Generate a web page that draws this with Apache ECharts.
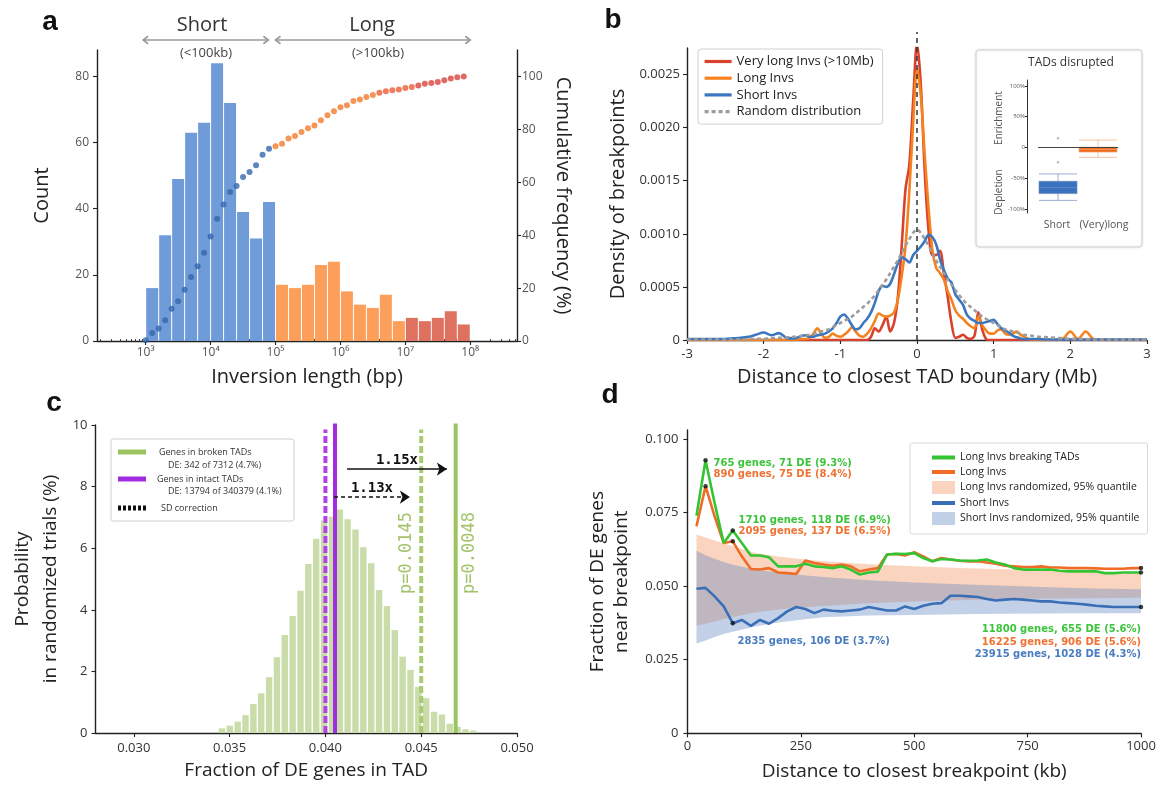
<!DOCTYPE html>
<html>
<head>
<meta charset="utf-8">
<script src="https://cdn.jsdelivr.net/npm/echarts@6.0.0/dist/echarts.min.js"></script>
<style>
html,body{margin:0;padding:0;background:#fff;}
.p{position:absolute;left:0;top:0;width:1162px;height:785px;}
</style>
</head>
<body>
<div id="pa" class="p"></div><div id="pb" class="p"></div><div id="pc" class="p"></div><div id="pd" class="p"></div>
<script>
// ================= DATA =================
// Panel a: histogram of inversion lengths (log10 bp bin centres) + cumulative frequency
const aBinCenters = [3.1,3.3,3.5,3.7,3.9,4.1,4.3,4.5,4.7,4.9,5.1,5.3,5.5,5.7,5.9,6.1,6.3,6.5,6.7,6.9,7.1,7.3,7.5,7.7,7.9];
const aCounts = [16,32,49,63,66,84,72,39,31,42,17,16,17,23,24,15,11,10,14,6,7,6,7,9,5];
const aCumX = [3.0,3.1,3.2,3.3,3.4,3.5,3.6,3.7,3.8,3.9,4.0,4.1,4.2,4.3,4.4,4.5,4.6,4.7,4.8,4.9,
               5.0,5.1,5.2,5.3,5.4,5.5,5.6,5.7,5.8,5.9,6.0,6.1,6.2,6.3,6.4,6.5,6.6,6.7,6.8,6.9,
               7.0,7.1,7.2,7.3,7.4,7.5,7.6,7.7,7.8,7.9];
const aCumPct = [0.3,3.0,4.7,7.8,12.2,15.0,19.4,24.2,28.3,33.4,39.5,46.2,51.6,56.3,58.6,62.0,63.9,66.4,70.4,72.7,
                 73.6,74.6,76.5,77.5,79.0,80.4,81.5,83.4,85.3,86.8,88.4,89.1,90.7,91.3,92.2,93.0,93.8,94.4,94.8,95.1,
                 95.6,96.0,96.6,97.2,97.5,97.9,98.6,99.2,99.7,100];
const aTickVals = [3,4,5,6,7,8];
const aTickLabels = ['10³','10⁴','10⁵','10⁶','10⁷','10⁸'];
const aLeftTicks = [0,20,40,60,80];
const aRightTicks = [0,20,40,60,80,100];
const aShortRange = [2.96,4.89];
const aLongRange = [5.0,8.0];

// Panel b: density of breakpoints vs distance to TAD boundary (Mb)
const bX = [-3,-2.9,-2.8,-2.7,-2.6,-2.5,-2.4,-2.3,-2.2,-2.1,-2,-1.9,-1.8,-1.7,-1.6,
  -1.5,-1.45,-1.4,-1.35,-1.3,-1.25,-1.2,-1.15,-1.1,-1.05,-1,-0.95,-0.9,-0.85,-0.8,-0.75,-0.7,-0.65,-0.6,-0.55,
  -0.5,-0.45,-0.4,-0.35,-0.3,-0.25,-0.2,-0.15,-0.1,-0.05,0,0.05,0.1,0.15,0.2,0.25,0.3,0.35,0.4,0.45,0.5,
  0.55,0.6,0.65,0.7,0.75,0.8,0.85,0.9,0.95,1,1.05,1.1,1.15,1.2,1.25,1.3,1.35,1.4,1.45,1.5,
  1.6,1.7,1.8,1.9,2,2.1,2.2,2.3,2.4,2.5,2.6,2.7,2.8,2.9,3];
const bVeryLong = [0,0,0,0,0,0,0,0,0,0,0,0,0,0,0,
  0,0,0,0,0,0,0,0,0,0,0,0,0,0,0,0,0,0,0.3e-4,1.1e-4,
  0.8e-4,1.4e-4,2.2e-4,0.8e-4,1.6e-4,4.0e-4,8.8e-4,14.2e-4,16.5e-4,22.5e-4,28.0e-4,24.0e-4,16.0e-4,10.4e-4,8.0e-4,8.0e-4,8.4e-4,6.3e-4,4.1e-4,1.6e-4,0.2e-4,
  0.3e-4,0.5e-4,0.2e-4,0.1e-4,0.4e-4,2.6e-4,1.0e-4,0.1e-4,0,0,0,0,0,0,0,0,0,0,0,0,
  0,0,0,0,0,0,0,0,0,0,0,0,0,0,0];
const bLong = [0,0,0,0,0,0,0,0,0,0,0,0,0,0,0,
  0.1e-4,0.1e-4,0.2e-4,0.6e-4,1.1e-4,0.6e-4,0.2e-4,0.3e-4,0.6e-4,0.4e-4,0.3e-4,0.5e-4,0.8e-4,1.2e-4,0.8e-4,0.4e-4,0.3e-4,0.6e-4,1.1e-4,1.8e-4,
  2.5e-4,2.3e-4,2.2e-4,2.3e-4,2.6e-4,3.8e-4,6.0e-4,8.8e-4,14.0e-4,20.5e-4,25.5e-4,23.0e-4,17.5e-4,12.5e-4,8.5e-4,6.8e-4,6.3e-4,5.7e-4,4.6e-4,3.8e-4,2.8e-4,
  2.3e-4,2.0e-4,1.6e-4,1.3e-4,1.1e-4,2.2e-4,1.4e-4,0.9e-4,0.6e-4,0.6e-4,0.9e-4,1.0e-4,0.6e-4,0.5e-4,0.6e-4,0.8e-4,0.5e-4,0.3e-4,0.1e-4,0.05e-4,
  0,0,0,0.1e-4,0.8e-4,0.1e-4,0.8e-4,0.1e-4,0,0,0,0,0,0,0];
const bShort = [0.1e-4,0.1e-4,0.1e-4,0.1e-4,0.1e-4,0.1e-4,0.15e-4,0.2e-4,0.3e-4,0.5e-4,0.7e-4,0.45e-4,0.65e-4,0.2e-4,0.15e-4,
  0.4e-4,0.45e-4,0.3e-4,0.3e-4,0.45e-4,0.5e-4,0.6e-4,0.8e-4,1.1e-4,1.6e-4,2.2e-4,2.4e-4,2.0e-4,1.4e-4,1.0e-4,1.1e-4,1.6e-4,2.0e-4,2.6e-4,3.5e-4,
  4.6e-4,5.1e-4,5.0e-4,5.3e-4,6.2e-4,7.2e-4,7.8e-4,7.6e-4,7.3e-4,8.0e-4,8.4e-4,8.8e-4,9.3e-4,9.9e-4,9.7e-4,9.0e-4,7.6e-4,6.6e-4,5.8e-4,5.4e-4,4.3e-4,
  3.8e-4,3.3e-4,2.4e-4,2.0e-4,1.8e-4,1.6e-4,1.6e-4,1.7e-4,1.8e-4,1.9e-4,1.5e-4,1.1e-4,0.9e-4,0.7e-4,0.4e-4,0.25e-4,0.15e-4,0.1e-4,0.1e-4,0.1e-4,
  0.08e-4,0.06e-4,0.05e-4,0.05e-4,0.05e-4,0.05e-4,0.05e-4,0.05e-4,0.05e-4,0.05e-4,0.05e-4,0.05e-4,0.05e-4,0.05e-4,0.05e-4];
const bRandom = [0.05e-4,0.05e-4,0.05e-4,0.05e-4,0.05e-4,0.05e-4,0.05e-4,0.05e-4,0.08e-4,0.1e-4,0.12e-4,0.15e-4,0.2e-4,0.25e-4,0.3e-4,
  0.4e-4,0.45e-4,0.5e-4,0.6e-4,0.7e-4,0.8e-4,0.9e-4,1.0e-4,1.2e-4,1.4e-4,1.6e-4,1.8e-4,2.0e-4,2.2e-4,2.5e-4,2.8e-4,3.1e-4,3.4e-4,3.8e-4,4.2e-4,
  4.7e-4,5.2e-4,5.7e-4,6.3e-4,6.9e-4,7.5e-4,8.2e-4,8.9e-4,9.5e-4,10.1e-4,10.4e-4,10.1e-4,9.5e-4,8.9e-4,8.2e-4,7.5e-4,6.9e-4,6.3e-4,5.7e-4,5.2e-4,4.7e-4,
  4.2e-4,3.8e-4,3.4e-4,3.1e-4,2.8e-4,2.5e-4,2.2e-4,2.0e-4,1.8e-4,1.6e-4,1.4e-4,1.2e-4,1.0e-4,0.9e-4,0.8e-4,0.7e-4,0.6e-4,0.5e-4,0.45e-4,0.4e-4,
  0.3e-4,0.25e-4,0.2e-4,0.15e-4,0.12e-4,0.1e-4,0.08e-4,0.05e-4,0.05e-4,0.05e-4,0.05e-4,0.05e-4,0.05e-4,0.05e-4,0.05e-4];
const bXTicks = [-3,-2,-1,0,1,2,3];
const bYTicks = [0,0.0005,0.001,0.0015,0.002,0.0025];
const bBoundaryTop = 0.0029;
// Panel b inset: TADs disrupted (enrichment / depletion)
const insetCats = ['Short','(Very)long'];
const insetBox = [[-86,-75,-65,-55,-43],[-16,-7.5,-3,0.5,12]];
const insetOutliers = [['Short',-24],['Short',15]];
const insetTicks = [-100,-50,0,50,100];

// Panel c: randomized trials histogram
const cBinX = [0.03460,0.03501,0.03542,0.03583,0.03624,0.03665,0.03706,0.03747,0.03788,0.03829,0.03870,
  0.03911,0.03952,0.03993,0.04034,0.04075,0.04116,0.04157,0.04198,0.04239,0.04280,0.04321,
  0.04362,0.04403,0.04444,0.04485,0.04526,0.04567,0.04608,0.04649,0.04690,0.04731,0.04772];
const cBinY = [0.15,0.24,0.37,0.58,0.94,1.29,1.81,2.46,3.18,3.80,4.62,5.49,6.31,6.90,7.02,7.26,6.94,6.61,6.03,5.51,
  4.64,4.12,3.34,2.48,2.05,1.50,1.13,0.69,0.60,0.30,0.20,0.12,0.08];
const cLineNames = ['Genes in broken TADs','Genes in broken TADs (SD corrected)','Genes in intact TADs','SD correction'];
const cLineX = [0.0468,0.0450,0.0405,0.0400];
const cLineTop = [10.05,9.85,10.05,9.85];
const cArrowFrom = [0.04113,0.04045];
const cArrowTo = [0.04634,0.04441];
const cArrowY = [8.57,7.66];
const cArrowLabels = ['1.15x','1.13x'];
const cXTicks = [0.030,0.035,0.040,0.045,0.050];
const cYTicks = [0,2,4,6,8,10];

// Panel d: fraction of DE genes near breakpoint
const dX = [20,40,60,80,100,120,140,160,180,200,220,240,260,280,300,320,340,360,380,400,
  420,440,460,480,500,520,540,560,580,600,620,640,660,680,700,720,740,760,780,800,
  820,840,860,880,900,920,940,960,980,1000];
const dGreen = [0.0739,0.0927,0.0782,0.0646,0.0689,0.0646,0.0604,0.0604,0.0598,0.0567,
  0.0567,0.0567,0.0576,0.0567,0.0565,0.0561,0.0567,0.0556,0.0539,0.0546,
  0.0549,0.0607,0.0610,0.0609,0.0612,0.0595,0.0584,0.0592,0.0590,0.0587,
  0.0586,0.0587,0.0590,0.0580,0.0573,0.0561,0.0556,0.0556,0.0556,0.0556,
  0.0552,0.0550,0.0550,0.0550,0.0550,0.0544,0.0544,0.0546,0.0546,0.0546];
const dOrange = [0.0703,0.0839,0.0737,0.0646,0.0652,0.0601,0.0558,0.0556,0.0561,0.0546,
  0.0544,0.0541,0.0587,0.0578,0.0573,0.0569,0.0573,0.0567,0.0550,0.0556,
  0.0561,0.0607,0.0609,0.0604,0.0615,0.0601,0.0584,0.0595,0.0590,0.0586,
  0.0584,0.0584,0.0580,0.0576,0.0569,0.0567,0.0565,0.0565,0.0567,0.0563,
  0.0563,0.0561,0.0561,0.0561,0.0560,0.0559,0.0559,0.0559,0.0561,0.0561];
const dBlue = [0.0491,0.0494,0.0465,0.0431,0.0374,0.0385,0.0365,0.0385,0.0372,0.0391,
  0.0414,0.0429,0.0422,0.0408,0.0420,0.0416,0.0414,0.0417,0.0420,0.0429,
  0.0423,0.0417,0.0417,0.0431,0.0422,0.0433,0.0440,0.0442,0.0467,0.0467,
  0.0465,0.0463,0.0456,0.0451,0.0454,0.0456,0.0454,0.0451,0.0448,0.0448,
  0.0444,0.0442,0.0440,0.0437,0.0433,0.0431,0.0429,0.0429,0.0429,0.0429];
const dBandX = [20,40,60,80,100,150,200,250,300,400,500,600,700,800,900,1000];
const dOrangeLo = [0.0365,0.0372,0.0380,0.0388,0.0395,0.0410,0.0420,0.0427,0.0432,0.0442,0.0448,0.0452,0.0456,0.0458,0.0459,0.0460];
const dOrangeHi = [0.0675,0.0665,0.0655,0.0645,0.0635,0.0612,0.0600,0.0592,0.0584,0.0574,0.0567,0.0561,0.0557,0.0553,0.0549,0.0545];
const dBlueLo = [0.0305,0.0315,0.0327,0.0337,0.0345,0.0363,0.0376,0.0386,0.0394,0.0400,0.0402,0.0404,0.0406,0.0407,0.0408,0.0408];
const dBlueHi = [0.0620,0.0605,0.0593,0.0582,0.0572,0.0556,0.0546,0.0538,0.0531,0.0520,0.0512,0.0506,0.0501,0.0496,0.0492,0.0489];
const dMarkIdx = [1,4,49];
const dBlueMarkIdx = [4,49];
const dXTicks = [0,250,500,750,1000];
const dYTicks = [0,0.025,0.05,0.075,0.1];

// ================= STYLE HELPERS =================
const F = 'Open Sans';
const AX = {color:'#222', width:1.4};
function valAxis(o){
  const ax = {
    type:'value', gridIndex:0, min:o.min, max:o.max, scale:false,
    splitLine:{show:false},
    axisLine:{show:true, onZero:false, lineStyle:AX},
    axisTick:{show:true, length:o.tickLen||4, lineStyle:{color:'#222', width:1.1}},
    axisLabel:{color:o.labelColor||'#333', fontSize:o.fs||13, margin:o.margin||7, fontFamily:F},
    nameTextStyle:{fontSize:o.nameFs||20, color:'#222', fontFamily:F, lineHeight:o.nameLh},
    nameLocation:'middle'
  };
  if (o.ticks){ ax.axisTick.customValues = o.ticks; ax.axisLabel.customValues = o.ticks; }
  if (o.interval){ ax.interval = o.interval; }
  ax.axisLabel.formatter = o.fmt || function(v){ return String(v); };
  if (o.name){ ax.name = o.name; ax.nameGap = o.nameGap; }
  if (o.position) ax.position = o.position;
  if (o.nameRotate != null) ax.nameRotate = o.nameRotate;
  return ax;
}
function letter(t, x, y){
  return {type:'text', x:x, y:y, style:{text:t, font:'bold 28px "Liberation Sans", Arial, sans-serif', fill:'#111', align:'center', verticalAlign:'middle'}};
}
function txt(t, x, y, size, color, extra, rot){
  const e = {type:'text', x:x, y:y, style:Object.assign({text:t, fontFamily:F, fontSize:size, fill:color, align:'center', verticalAlign:'middle'}, extra||{})};
  if (rot) e.rotation = rot;
  return e;
}

// ================= PANEL A =================
const ca = echarts.init(document.getElementById('pa'), null, {width:1162, height:785});
const aMinor = [];
for (let n = 2; n <= 8; n++) for (let k = 2; k <= 9; k++) { const v = n + Math.log10(k); if (v > 2.25 && v < 8.72) aMinor.push(v); }
function aBarColor(x){ return x < 5 ? '#6f9cd8' : (x < 7 ? '#fc9f5b' : '#de7160'); }
function aDotColor(x){ return x < 5 ? '#3466ae' : (x < 6.6 ? '#f27a2c' : (x < 7.2 ? '#e95e36' : '#d9423c')); }
ca.setOption({
  animation:false,
  textStyle:{fontFamily:F},
  grid:[{left:97, top:50, width:420, height:291, outerBoundsMode:'none'}],
  xAxis:[
    valAxis({min:2.25, max:8.72, ticks:aTickVals, fs:12, labelColor:'#555', margin:6,
      fmt:function(v){ return aTickLabels[aTickVals.indexOf(Math.round(v))]; },
      name:'Inversion length (bp)', nameGap:26}),
    {type:'value', gridIndex:0, min:2.25, max:8.72, splitLine:{show:false}, axisLine:{show:false},
     axisTick:{show:true, customValues:aMinor, length:2, lineStyle:{color:'#444', width:1}}, axisLabel:{show:false}}
  ],
  yAxis:[
    valAxis({min:0, max:88, ticks:aLeftTicks, fs:12, labelColor:'#555', margin:8, name:'Count', nameGap:45}),
    valAxis({min:0, max:110, ticks:aRightTicks, fs:12, labelColor:'#555', margin:5, position:'right',
      name:'Cumulative frequency (%)', nameGap:36, nameRotate:-90})
  ],
  series:[
    {type:'bar', name:'Count', xAxisIndex:0, yAxisIndex:0, barWidth:12,
     data:aBinCenters.map(function(x,i){ return {value:[x, aCounts[i]], itemStyle:{color:aBarColor(x)}}; }),
     itemStyle:{borderWidth:0}},
    {type:'scatter', name:'Cumulative', xAxisIndex:0, yAxisIndex:1, symbolSize:6, z:5,
     data:aCumX.map(function(x,i){ return {value:[x, aCumPct[i]], itemStyle:{color:aDotColor(x)}}; })}
  ]
});
(function(){
  const y = 40, col = '#9a9a9a', h = 5;
  function arrow(r){
    const x1 = ca.convertToPixel({xAxisIndex:0}, r[0]);
    const x2 = ca.convertToPixel({xAxisIndex:0}, r[1]);
    return [
      {type:'line', shape:{x1:x1, y1:y, x2:x2, y2:y}, style:{stroke:col, lineWidth:1.6}},
      {type:'polyline', shape:{points:[[x1+h, y-h*0.75],[x1, y],[x1+h, y+h*0.75]]}, style:{stroke:col, lineWidth:1.6, fill:'none'}},
      {type:'polyline', shape:{points:[[x2-h, y-h*0.75],[x2, y],[x2-h, y+h*0.75]]}, style:{stroke:col, lineWidth:1.6, fill:'none'}}
    ];
  }
  ca.setOption({graphic:{elements:[].concat(
    arrow(aShortRange), arrow(aLongRange),
    [letter('a', 50, 22),
     txt('Short', 202, 25, 20, '#333'),
     txt('Long', 372, 25, 20, '#333'),
     txt('(<100kb)', 206, 53, 13, '#444'),
     txt('(>100kb)', 378, 53, 13, '#444')]
  )}});
})();

// ================= PANEL B =================
const cb = echarts.init(document.getElementById('pb'), null, {width:1162, height:785});
function bLine(name, ys, color, dashed, z){
  return {name:name, type:'line', xAxisIndex:0, yAxisIndex:0, smooth:0.3, symbol:'none', showSymbol:false, z:z,
    data:bX.map(function(x,i){ return [x, ys[i]]; }),
    lineStyle:{color:color, width:2.6, type:dashed ? [4,3] : 'solid'}, itemStyle:{color:color}};
}
const bInsetY = valAxis({min:-106.5, max:109.7, ticks:insetTicks, fs:6, labelColor:'#555', margin:2, tickLen:2,
  fmt:function(v){ return v === 0 ? '0' : v + '%'; }});
bInsetY.gridIndex = 1; bInsetY.offset = 11; bInsetY.axisLine.lineStyle = {color:'#333', width:1};
cb.setOption({
  animation:false,
  textStyle:{fontFamily:F},
  grid:[{left:687, top:48, width:460, height:292, outerBoundsMode:'none'},
        {left:1038, top:80, width:80, height:133, outerBoundsMode:'none'}],
  legend:{
    data:['Very long Invs (>10Mb)','Long Invs','Short Invs','Random distribution'],
    orient:'vertical', left:698, top:49, padding:[6,9,6,5], itemGap:3.7, itemWidth:27, itemHeight:14,
    textStyle:{fontSize:13, color:'#222', fontFamily:F}, backgroundColor:'#fff',
    borderColor:'#d0d0d0', borderWidth:1, borderRadius:3, selectedMode:false,
    lineStyle:{width:3.2}, itemStyle:{opacity:0}
  },
  xAxis:[
    valAxis({min:-3, max:3, interval:1, fs:13, margin:8, name:'Distance to closest TAD boundary (Mb)', nameGap:27}),
    {type:'category', gridIndex:1, data:insetCats, boundaryGap:true, axisLine:{show:false}, axisTick:{show:false},
     axisLabel:{color:'#555', fontSize:10.5, margin:7, fontFamily:F, interval:0,
       formatter:function(v, i){ return i === 1 ? '{r|' + v + '}' : '{l|' + v + '}'; },
       rich:{r:{padding:[0,0,0,12], fontSize:10.5, color:'#555'}, l:{padding:[0,2,0,0], fontSize:10.5, color:'#555'}}}}
  ],
  yAxis:[
    valAxis({min:0, max:0.00275, ticks:bYTicks, fs:13, margin:7,
      fmt:function(v){ return v === 0 ? '0' : v.toFixed(4); },
      name:'Density of breakpoints', nameGap:59}),
    bInsetY
  ],
  series:[
    bLine('Very long Invs (>10Mb)', bVeryLong, '#d8412b', false, 2),
    bLine('Long Invs', bLong, '#f5821f', false, 3),
    bLine('Short Invs', bShort, '#3b77c1', false, 4),
    bLine('Random distribution', bRandom, '#9c9c9c', true, 5),
    {type:'line', name:'boundary', xAxisIndex:0, yAxisIndex:0, symbol:'none', clip:false, silent:true, z:6,
     data:[[0,0],[0,bBoundaryTop]], lineStyle:{color:'#333', width:1.5, type:[5,4]}},
    {type:'boxplot', name:'TADs disrupted', xAxisIndex:1, yAxisIndex:1, boxWidth:[38,40], z:3,
     data:[
       {value:insetBox[0], itemStyle:{color:'#3a72c0', borderColor:'rgba(110,140,185,0.7)', borderWidth:1}},
       {value:insetBox[1], itemStyle:{color:'#ee6a1c', borderColor:'rgba(240,170,120,0.7)', borderWidth:1}}
     ],
     markLine:{silent:true, symbol:['none','none'], label:{show:false}, animation:false,
       lineStyle:{color:'#444', width:1, type:'solid'}, data:[{yAxis:0}]}},
    {type:'scatter', name:'outliers', xAxisIndex:1, yAxisIndex:1, symbolSize:2.5, itemStyle:{color:'#aaa'}, data:insetOutliers, z:4}
  ],
  graphic:{elements:[
    letter('b', 613, 20),
    {type:'rect', z:-1, shape:{x:976, y:50, width:166, height:197, r:3},
     style:{fill:'#fff', stroke:'#d0d0d0', lineWidth:1, shadowBlur:3, shadowColor:'rgba(0,0,0,0.12)'}},
    txt('TADs disrupted', 1071, 63, 12, '#333'),
    txt('Enrichment', 999, 118, 10, '#555', {}, Math.PI/2),
    txt('Depletion', 999, 192, 10, '#555', {}, Math.PI/2)
  ]}
});

// ================= PANEL C =================
const cc = echarts.init(document.getElementById('pc'), null, {width:1162, height:785});
const cColors = ['#9cc45e','#a8ca70','#a22ce0','#b440e8'];
const cDashed = [false,true,false,true];
cc.setOption({
  animation:false,
  textStyle:{fontFamily:F},
  grid:[{left:95.5, top:425, width:421.5, height:308, outerBoundsMode:'none'}],
  xAxis:[valAxis({min:0.028, max:0.050, ticks:cXTicks, fs:13, margin:9,
    fmt:function(v){ return v.toFixed(3); }, name:'Fraction of DE genes in TAD', nameGap:28, nameFs:19})],
  yAxis:[valAxis({min:0, max:10, ticks:cYTicks, fs:13, margin:8,
    name:'Probability\nin randomized trials (%)', nameGap:31, nameFs:19, nameLh:28})],
  series:[
    {type:'bar', name:'Randomized trials', xAxisIndex:0, yAxisIndex:0, barWidth:6.4, z:2,
     itemStyle:{color:'#cadca9'},
     data:cBinX.map(function(x,i){ return [x, cBinY[i]]; }),
     markLine:{silent:true, animation:false, symbol:['none','arrow'], symbolSize:[10,10],
       data:cArrowFrom.map(function(x0,i){
         return [
           {coord:[x0, cArrowY[i]], symbol:'none',
            lineStyle:{color:'#111', width:1.6, type:i === 0 ? 'solid' : [4,3]},
            label:{show:true, formatter:cArrowLabels[i], position:'insideMiddleTop', distance:2,
              fontFamily:'DejaVu Sans Mono', fontWeight:'bold', fontSize:14, color:'#111'}},
           {coord:[cArrowTo[i], cArrowY[i]], symbol:'arrow', symbolSize:10}
         ];
       })}}
  ].concat(cLineX.map(function(x,i){
    return {type:'line', name:cLineNames[i], xAxisIndex:0, yAxisIndex:0, symbol:'none', clip:false, z:4,
      data:[[x,0],[x,cLineTop[i]]],
      lineStyle:{color:cColors[i], width:4, type:cDashed[i] ? [7,3] : 'solid'}};
  })),
  graphic:{elements:[
    letter('c', 54, 403),
    {type:'rect', shape:{x:111, y:439, width:183, height:82, r:2}, style:{fill:'#fff', stroke:'#d0d0d0', lineWidth:1}},
    {type:'rect', shape:{x:118, y:449.5, width:28, height:5}, style:{fill:cColors[0]}},
    txt('Genes in broken TADs', 159, 452, 9, '#333', {align:'left'}),
    txt('DE: 342 of 7312 (4.7%)', 168, 465, 9, '#333', {align:'left'}),
    {type:'rect', shape:{x:118, y:476.5, width:28, height:5}, style:{fill:cColors[2]}},
    txt('Genes in intact TADs', 157, 479, 9, '#333', {align:'left'}),
    txt('DE: 13794 of 340379 (4.1%)', 168, 491, 9, '#333', {align:'left'}),
    {type:'line', shape:{x1:118, y1:508, x2:146, y2:508}, style:{stroke:'#111', lineWidth:5, lineDash:[3,2]}},
    txt('SD correction', 161, 508, 9, '#333', {align:'left'}),
    txt('p=0.0145', 407, 553, 17, '#a3c46d', {fontFamily:'DejaVu Sans Mono'}, Math.PI/2),
    txt('p=0.0048', 470, 553, 17, '#a3c46d', {fontFamily:'DejaVu Sans Mono'}, Math.PI/2)
  ]}
});

// ================= PANEL D =================
const cd = echarts.init(document.getElementById('pd'), null, {width:1162, height:785});
const dOrangeBand = 'rgba(245,160,110,0.45)';
const dBlueBand = 'rgba(95,135,195,0.38)';
function dBand(name, lo, hi, color){
  return {name:name, type:'custom', xAxisIndex:0, yAxisIndex:0, coordinateSystem:'cartesian2d', silent:true, z:1,
    itemStyle:{color:color}, data:[[dBandX[0], lo[0]]],
    renderItem:function(params, api){
      const pts = [];
      for (let i = 0; i < dBandX.length; i++) pts.push(api.coord([dBandX[i], hi[i]]));
      for (let i = dBandX.length - 1; i >= 0; i--) pts.push(api.coord([dBandX[i], lo[i]]));
      return {type:'polygon', shape:{points:pts}, style:{fill:color}};
    }};
}
function dLine(name, ys, color, z){
  return {name:name, type:'line', xAxisIndex:0, yAxisIndex:0, symbol:'none', z:z,
    data:dX.map(function(x,i){ return [x, ys[i]]; }), lineStyle:{color:color, width:2.6}, itemStyle:{color:color}};
}
const dGreenC = '#33c433', dOrangeC = '#ef6b26', dBlueC = '#3a6fb6';
const dDots = dMarkIdx.map(function(i){ return [dX[i], dGreen[i]]; })
  .concat(dMarkIdx.map(function(i){ return [dX[i], dOrange[i]]; }))
  .concat(dBlueMarkIdx.map(function(i){ return [dX[i], dBlue[i]]; }));
const annFont = {fontFamily:'DejaVu Sans', fontWeight:'bold'};
cd.setOption({
  animation:false,
  textStyle:{fontFamily:F},
  grid:[{left:687.4, top:430, width:453.6, height:303.3, outerBoundsMode:'none'}],
  legend:{
    data:[
      {name:'Long Invs breaking TADs'},
      {name:'Long Invs'},
      {name:'Long Invs randomized, 95% quantile', icon:'rect', itemStyle:{color:dOrangeBand, opacity:1}},
      {name:'Short Invs'},
      {name:'Short Invs randomized, 95% quantile', icon:'rect', itemStyle:{color:dBlueBand, opacity:1}}
    ],
    orient:'vertical', left:910, top:443, padding:[9,8,9,20], itemGap:3.5, itemWidth:23, itemHeight:13,
    textStyle:{fontSize:10.5, color:'#222', fontFamily:F}, backgroundColor:'#fff',
    borderColor:'#d8d8d8', borderWidth:1, borderRadius:2, selectedMode:false, lineStyle:{width:4},
    itemStyle:{opacity:0}
  },
  xAxis:[valAxis({min:0, max:1000, interval:250, fs:13, margin:6,
    name:'Distance to closest breakpoint (kb)', nameGap:29, nameFs:19})],
  yAxis:[valAxis({min:0, max:0.103, ticks:dYTicks, fs:13, margin:9,
    fmt:function(v){ return v === 0 ? '0' : v.toFixed(3); },
    name:'Fraction of DE genes\nnear breakpoint', nameGap:54, nameFs:19, nameLh:24})],
  series:[
    dBand('Long Invs randomized, 95% quantile', dOrangeLo, dOrangeHi, dOrangeBand),
    dBand('Short Invs randomized, 95% quantile', dBlueLo, dBlueHi, dBlueBand),
    dLine('Short Invs', dBlue, dBlueC, 3),
    dLine('Long Invs', dOrange, dOrangeC, 4),
    dLine('Long Invs breaking TADs', dGreen, dGreenC, 5),
    {type:'scatter', name:'marks', xAxisIndex:0, yAxisIndex:0, symbolSize:4.5, z:6, itemStyle:{color:'#111'}, data:dDots}
  ],
  graphic:{elements:[
    letter('d', 610, 395),
    txt('765 genes, 71 DE (9.3%)', 713.5, 463, 10, '#3cc43c', Object.assign({align:'left'}, annFont)),
    txt('890 genes, 75 DE (8.4%)', 713.5, 474.5, 10, '#f07232', Object.assign({align:'left'}, annFont)),
    txt('1710 genes, 118 DE (6.9%)', 738.5, 520, 10, '#3cc43c', Object.assign({align:'left'}, annFont)),
    txt('2095 genes, 137 DE (6.5%)', 738.5, 531, 10, '#f07232', Object.assign({align:'left'}, annFont)),
    txt('2835 genes, 106 DE (3.7%)', 737.5, 641, 10, '#4a7cc0', Object.assign({align:'left'}, annFont)),
    txt('11800 genes, 655 DE (5.6%)', 1141, 629, 10, '#3cc43c', Object.assign({align:'right'}, annFont)),
    txt('16225 genes, 906 DE (5.6%)', 1141, 642, 10, '#f07232', Object.assign({align:'right'}, annFont)),
    txt('23915 genes, 1028 DE (4.3%)', 1141, 654.5, 10, '#4a7cc0', Object.assign({align:'right'}, annFont))
  ]}
});
</script>
</body>
</html>
